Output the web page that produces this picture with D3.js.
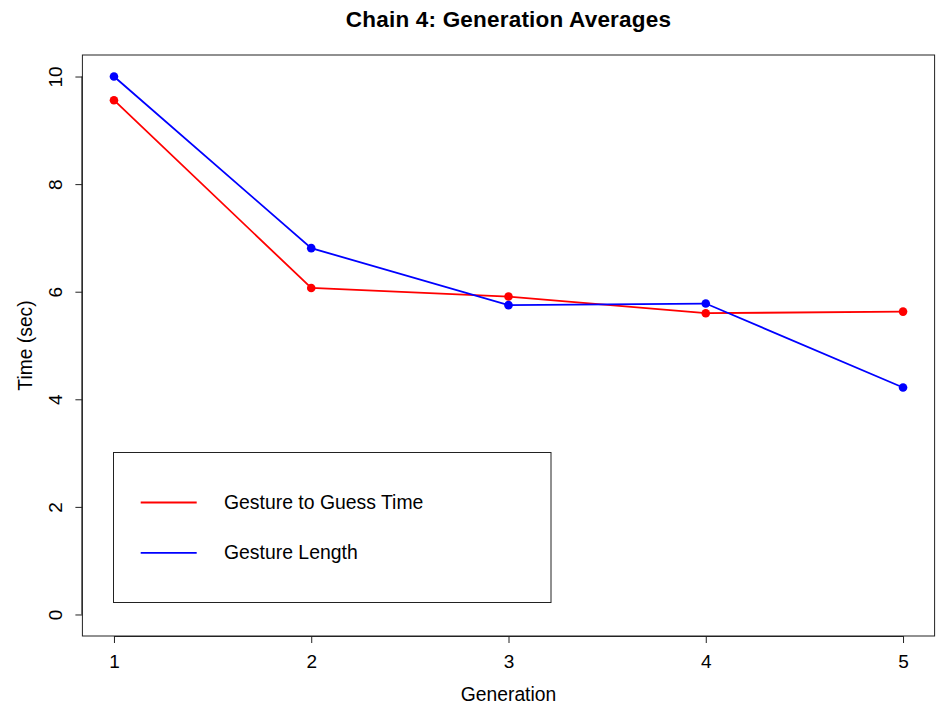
<!DOCTYPE html>
<html>
<head>
<meta charset="utf-8">
<script src="https://cdn.jsdelivr.net/npm/d3@7"></script>
<style>
  html, body { margin: 0; padding: 0; background: #fff; }
  svg { display: block; font-family: "Liberation Sans", Arial, Helvetica, sans-serif; }
</style>
</head>
<body>
<svg id="chart" width="940" height="709"></svg>
<script>
// Generation averages for chain 4
const generations = [1, 2, 3, 4, 5];
const guessTime = [9.56, 6.07, 5.91, 5.60, 5.63];
const gestureLength = [10.0, 6.81, 5.75, 5.78, 4.22];
const xTicks = [1, 2, 3, 4, 5];
const yTicks = [0, 2, 4, 6, 8, 10];
const seriesNames = ["Gesture to Guess Time", "Gesture Length"];
const seriesColors = ["#ff0000", "#0000ff"];

const FONT = "Liberation Sans, Arial, sans-serif";
const plot = { left: 82.4, right: 934.6, top: 55, bottom: 636 };

const svg = d3.select("#chart");

// 4% padding on both axes, like base R graphics
const xPad = (5 - 1) * 0.04, yPad = (10 - 0) * 0.04;
const x = d3.scaleLinear().domain([1 - xPad, 5 + xPad]).range([plot.left, plot.right]);
const y = d3.scaleLinear().domain([0 - yPad, 10 + yPad]).range([plot.bottom, plot.top]);

// Plot frame
svg.append("rect")
  .attr("x", plot.left).attr("y", plot.top)
  .attr("width", plot.right - plot.left).attr("height", plot.bottom - plot.top)
  .attr("fill", "none").attr("stroke", "#222").attr("stroke-width", 1);

// X axis
const xAxis = svg.append("g")
  .attr("transform", `translate(0,${plot.bottom})`)
  .call(d3.axisBottom(x).tickValues(xTicks).tickSize(7).tickFormat(d3.format("d")));
xAxis.select(".domain").attr("d", `M${x(1)},0.5H${x(5)}`).attr("stroke", "#222");
xAxis.selectAll(".tick line").attr("stroke", "#222");
xAxis.selectAll(".tick text")
  .attr("font-size", 19).attr("fill", "#000").attr("font-family", FONT)
  .attr("y", 32).attr("dy", 0);

// Y axis with rotated tick labels
const yAxis = svg.append("g")
  .attr("transform", `translate(${plot.left},0)`)
  .call(d3.axisLeft(y).tickValues(yTicks).tickSize(7).tickFormat(d3.format("d")));
yAxis.select(".domain").attr("d", `M-0.5,${y(0)}V${y(10)}`).attr("stroke", "#222");
yAxis.selectAll(".tick line").attr("stroke", "#222");
yAxis.selectAll(".tick text")
  .attr("font-size", 19).attr("fill", "#000").attr("font-family", FONT)
  .attr("x", null).attr("dy", 0)
  .attr("text-anchor", "middle")
  .attr("transform", "translate(-20,0) rotate(-90)");

// Lines and points
const series = [guessTime, gestureLength];
const line = d3.line().x((d, i) => x(generations[i])).y(d => y(d));
series.forEach((vals, k) => {
  svg.append("path")
    .datum(vals)
    .attr("d", line)
    .attr("fill", "none")
    .attr("stroke", seriesColors[k])
    .attr("stroke-width", 1.8);
  svg.append("g").selectAll("circle")
    .data(vals)
    .join("circle")
    .attr("cx", (d, i) => x(generations[i]))
    .attr("cy", d => y(d))
    .attr("r", 4.3)
    .attr("fill", seriesColors[k]);
});

// Titles
svg.append("text")
  .attr("x", (plot.left + plot.right) / 2).attr("y", 27)
  .attr("text-anchor", "middle")
  .attr("font-size", 22.5).attr("font-weight", "bold")
  .attr("letter-spacing", 0.2)
  .text("Chain 4: Generation Averages");

svg.append("text")
  .attr("x", (plot.left + plot.right) / 2).attr("y", 701)
  .attr("text-anchor", "middle")
  .attr("font-size", 19.3)
  .text("Generation");

svg.append("text")
  .attr("transform", `translate(32,${(plot.top + plot.bottom) / 2}) rotate(-90)`)
  .attr("text-anchor", "middle")
  .attr("font-size", 19.3)
  .text("Time (sec)");

// Legend
const legend = svg.append("g");
legend.append("rect")
  .attr("x", 113.5).attr("y", 452.5)
  .attr("width", 437.5).attr("height", 150)
  .attr("fill", "#fff").attr("stroke", "#222").attr("stroke-width", 1);
seriesNames.forEach((name, k) => {
  const ly = 502.5 + k * 50.3;
  legend.append("line")
    .attr("x1", 140.7).attr("x2", 196.7)
    .attr("y1", ly).attr("y2", ly)
    .attr("stroke", seriesColors[k]).attr("stroke-width", 1.8);
  legend.append("text")
    .attr("x", 224).attr("y", ly + 6.5)
    .attr("font-size", 19.4)
    .text(name);
});
</script>
</body>
</html>
